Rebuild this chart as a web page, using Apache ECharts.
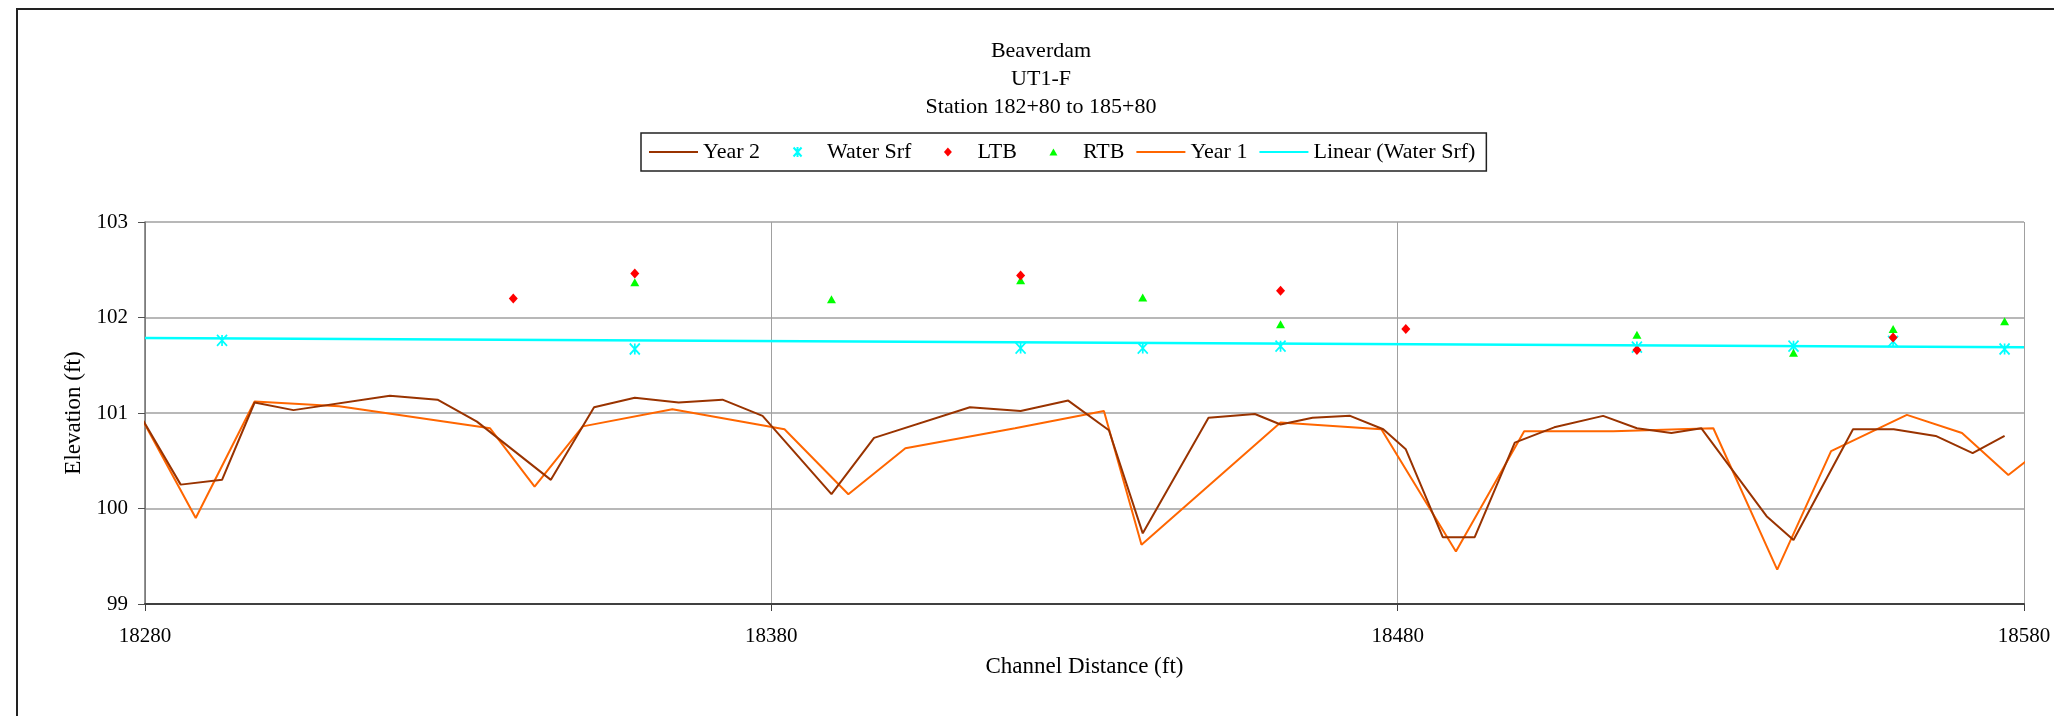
<!DOCTYPE html>
<html>
<head>
<meta charset="utf-8">
<title>Beaverdam UT1-F</title>
<script src="https://cdn.jsdelivr.net/npm/echarts@6/dist/echarts.min.js"></script>
<style>
  html, body { margin: 0; padding: 0; background: #fff; }
  #chart { width: 2054px; height: 716px; }
</style>
</head>
<body>
<div id="chart"></div>
<script>
// Longitudinal profile, channel distance (ft) vs elevation (ft)
const titleLines = ['Beaverdam', 'UT1-F', 'Station 182+80 to 185+80'];

// Year 2 thalweg survey
const year2X = [18279, 18285.7, 18292.3, 18297.5, 18303.7, 18319.1, 18326.7, 18333.0, 18344.8, 18351.7,
  18358.2, 18365.2, 18372.2, 18378.6, 18389.6, 18396.4, 18411.7, 18419.8, 18427.4, 18433.9,
  18439.3, 18449.8, 18457.2, 18461.3, 18466.4, 18472.4, 18477.7, 18481.3, 18487.2, 18492.3,
  18498.7, 18505.0, 18512.8, 18518.2, 18523.7, 18528.5, 18538.9, 18543.2, 18552.7, 18559.2,
  18565.9, 18571.8, 18576.9];
const year2Y = [101.0, 100.25, 100.30, 101.11, 101.03, 101.18, 101.14, 100.91, 100.30, 101.06,
  101.16, 101.11, 101.14, 100.97, 100.15, 100.74, 101.06, 101.02, 101.13, 100.82,
  99.74, 100.95, 100.99, 100.88, 100.95, 100.97, 100.83, 100.62, 99.70, 99.70,
  100.69, 100.85, 100.97, 100.84, 100.79, 100.84, 99.92, 99.67, 100.83, 100.83,
  100.76, 100.58, 100.76];

// Year 1 thalweg survey
const year1X = [18279, 18288.1, 18297.5, 18311.0, 18335.1, 18342.2, 18349.9, 18364.2, 18382.1, 18392.3,
  18401.4, 18418.9, 18433.1, 18439.1, 18461.3, 18477.4, 18489.3, 18500.2, 18514.4, 18530.4,
  18540.6, 18549.2, 18561.3, 18570.1, 18577.5, 18581.0];
const year1Y = [101.0, 99.90, 101.12, 101.07, 100.84, 100.23, 100.86, 101.04, 100.83, 100.15,
  100.63, 100.84, 101.02, 99.62, 100.90, 100.83, 99.55, 100.81, 100.81, 100.84,
  99.36, 100.60, 100.98, 100.79, 100.35, 100.53];

// Water surface shots
const waterX = [18292.3, 18358.2, 18419.8, 18439.3, 18461.3, 18518.2, 18543.2, 18559.1, 18576.9];
const waterY = [101.76, 101.67, 101.68, 101.68, 101.70, 101.69, 101.70, 101.75, 101.67];

// Left top of bank
const ltbX = [18338.8, 18358.2, 18419.8, 18461.3, 18481.3, 18518.2, 18559.1];
const ltbY = [102.20, 102.46, 102.44, 102.28, 101.88, 101.66, 101.79];

// Right top of bank
const rtbX = [18358.2, 18389.6, 18419.8, 18439.3, 18461.3, 18518.2, 18543.2, 18559.1, 18576.9];
const rtbY = [102.37, 102.19, 102.39, 102.21, 101.93, 101.82, 101.63, 101.88, 101.96];

// Linear trend of the water surface, end points
const trendX = [18280, 18580];
const trendY = [101.785, 101.688];

// Axis ranges
const xMin = 18280, xMax = 18580, xStep = 100;
const yMin = 99, yMax = 103, yStep = 1;

const pairs = (xs, ys) => xs.map((x, i) => [x, ys[i]]);

const serif = 'Liberation Serif';
const asterisk = 'path://M0 0L10 10M10 0L0 10M5 0L5 10';

// Legend icons: each path spans the full 49x10 key box so nothing gets stretched
const keyFrame = 'M0,0L0,0M49,10L49,10';
const keyLine = 'path://' + keyFrame + 'M0,4L49,4L49,6L0,6Z';
const keyDiamond = 'path://' + keyFrame + 'M24.5,0.5L28.5,5L24.5,9.5L20.5,5Z';
const keyTriangle = 'path://' + keyFrame + 'M24.5,1.5L28.5,8.5L20.5,8.5Z';
const keyAsterisk = 'path://' + keyFrame + 'M20.5,0.5L28.5,9.5M28.5,0.5L20.5,9.5M24.5,0L24.5,10';

const chart = echarts.init(document.getElementById('chart'), null, { renderer: 'canvas' });

const option = {
  animation: false,
  backgroundColor: '#ffffff',
  textStyle: { fontFamily: serif, color: '#000' },
  graphic: [
    {
      type: 'rect', silent: true, z: -10,
      shape: { x: 17, y: 9, width: 2100, height: 800 },
      style: { fill: 'none', stroke: '#222', lineWidth: 2 }
    },
    ...titleLines.map((t, i) => ({
      type: 'text', silent: true,
      x: 1041, y: [51.7, 79.7, 107.3][i],
      style: {
        text: t, fontFamily: serif, fontSize: 22, fill: '#000',
        align: 'center', verticalAlign: 'middle'
      }
    }))
  ],
  legend: {
    data: [
      { name: 'Year 2', icon: keyLine },
      { name: 'Water Srf', icon: keyAsterisk },
      { name: 'LTB', icon: keyDiamond },
      { name: 'RTB', icon: keyTriangle },
      { name: 'Year 1', icon: keyLine },
      { name: 'Linear (Water Srf)', icon: keyLine }
    ],
    left: 641, top: 133,
    orient: 'horizontal',
    itemWidth: 49, itemHeight: 10, itemGap: 12,
    padding: [7, 11, 7, 8],
    borderColor: '#222', borderWidth: 1.5,
    selectedMode: false,
    textStyle: { fontFamily: serif, fontSize: 22, color: '#000', lineHeight: 24 }
  },
  grid: { left: 145, right: 30, top: 222, bottom: 112, containLabel: false },
  xAxis: {
    type: 'value', min: xMin, max: xMax, interval: xStep,
    name: 'Channel Distance (ft)', nameLocation: 'middle', nameGap: 51,
    nameTextStyle: { fontFamily: serif, fontSize: 23, color: '#000' },
    axisLine: { show: true, onZero: false, lineStyle: { color: '#404040', width: 2 } },
    axisTick: { show: true, inside: false, length: 7, lineStyle: { color: '#404040', width: 1 } },
    axisLabel: { fontFamily: serif, fontSize: 21, color: '#000', margin: 22, formatter: v => String(v) },
    splitLine: { show: true, lineStyle: { color: '#a0a0a0', width: 1 } }
  },
  yAxis: {
    type: 'value', min: yMin, max: yMax, interval: yStep,
    name: 'Elevation (ft)', nameLocation: 'middle', nameGap: 60, nameRotate: 90,
    nameTextStyle: { fontFamily: serif, fontSize: 23, color: '#000' },
    axisLine: { show: true, onZero: false, lineStyle: { color: '#707070', width: 1.5 } },
    axisTick: { show: true, inside: false, length: 7, lineStyle: { color: '#505050', width: 1 } },
    axisLabel: { fontFamily: serif, fontSize: 21, color: '#000', margin: 17, formatter: v => String(v) },
    splitLine: { show: true, lineStyle: { color: '#b8b8b8', width: 2 } }
  },
  series: [
    {
      name: 'Year 1', type: 'line', data: pairs(year1X, year1Y),
      symbol: 'none', showSymbol: false, clip: false,
      lineStyle: { color: '#FF6600', width: 2 }, itemStyle: { color: '#FF6600' }
    },
    {
      name: 'Year 2', type: 'line', data: pairs(year2X, year2Y),
      symbol: 'none', showSymbol: false, clip: false,
      lineStyle: { color: '#993300', width: 2 }, itemStyle: { color: '#993300' }
    },
    {
      name: 'Linear (Water Srf)', type: 'line', data: pairs(trendX, trendY),
      symbol: 'none', showSymbol: false,
      lineStyle: { color: '#00FFFF', width: 2.5 }, itemStyle: { color: '#00FFFF' }
    },
    {
      name: 'Water Srf', type: 'scatter', data: pairs(waterX, waterY),
      symbol: asterisk, symbolSize: [10, 11],
      itemStyle: { color: '#00FFFF', borderColor: '#00FFFF', borderWidth: 1.8, opacity: 1 }
    },
    {
      name: 'RTB', type: 'scatter', data: pairs(rtbX, rtbY),
      symbol: 'triangle', symbolSize: [9, 8],
      itemStyle: { color: '#00FF00', opacity: 1 }
    },
    {
      name: 'LTB', type: 'scatter', data: pairs(ltbX, ltbY),
      symbol: 'diamond', symbolSize: [9, 10],
      itemStyle: { color: '#FF0000', opacity: 1 }
    }
  ]
};

chart.setOption(option);
</script>
</body>
</html>
